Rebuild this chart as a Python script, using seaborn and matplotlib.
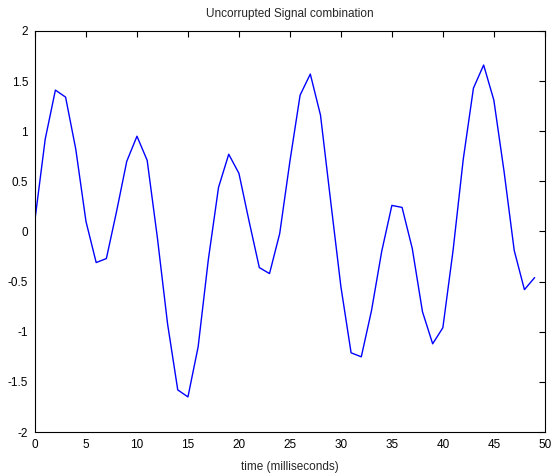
import numpy as np
import pandas as pd
import matplotlib
matplotlib.use("Agg")
import matplotlib.pyplot as plt
import seaborn as sns

# --- Data ---
time_ms = list(range(50))
signal = [
    0.12, 0.92, 1.41, 1.34, 0.82, 0.10, -0.31, -0.27, 0.20, 0.70,
    0.95, 0.71, -0.06, -0.92, -1.58, -1.65, -1.15, -0.28, 0.44, 0.77,
    0.58, 0.10, -0.36, -0.42, -0.02, 0.70, 1.36, 1.57, 1.16, 0.30,
    -0.55, -1.21, -1.25, -0.79, -0.20, 0.26, 0.24, -0.17, -0.80, -1.12,
    -0.96, -0.19, 0.72, 1.43, 1.66, 1.31, 0.60, -0.19, -0.58, -0.46,
]
x_ticks = [0, 5, 10, 15, 20, 25, 30, 35, 40, 45, 50]
y_ticks = [-2, -1.5, -1, -0.5, 0, 0.5, 1, 1.5, 2]
y_tick_labels = ["-2", "-1.5", "-1", "-0.5", "0", "0.5", "1", "1.5", "2"]

df = pd.DataFrame({"time": time_ms, "signal": signal})

sns.set_style("white")
plt.rcParams["font.family"] = ["Liberation Sans", "DejaVu Sans"]

fig = plt.figure(figsize=(5.52, 4.76), dpi=100)
ax = fig.add_axes([0.0634, 0.0924, 0.9236, 0.8426])

sns.lineplot(data=df, x="time", y="signal", color="#0000ff", linewidth=1.0, ax=ax)

ax.set_xlim(0, 50)
ax.set_ylim(-2, 2)
ax.set_xticks(x_ticks)
ax.set_yticks(y_ticks)
ax.set_yticklabels(y_tick_labels)
ax.tick_params(direction="in", length=4, width=0.8, top=True, right=True,
               labelsize=8.5, colors="black", pad=5)
for s in ax.spines.values():
    s.set_color("black")
    s.set_linewidth(0.8)
    s.set_visible(True)

ax.set_xlabel("time (milliseconds)", fontsize=8.5, labelpad=7)
ax.set_ylabel("")
ax.set_title("Uncorrupted Signal combination", fontsize=8.5, pad=10)

fig.savefig("out.png", dpi=100)
